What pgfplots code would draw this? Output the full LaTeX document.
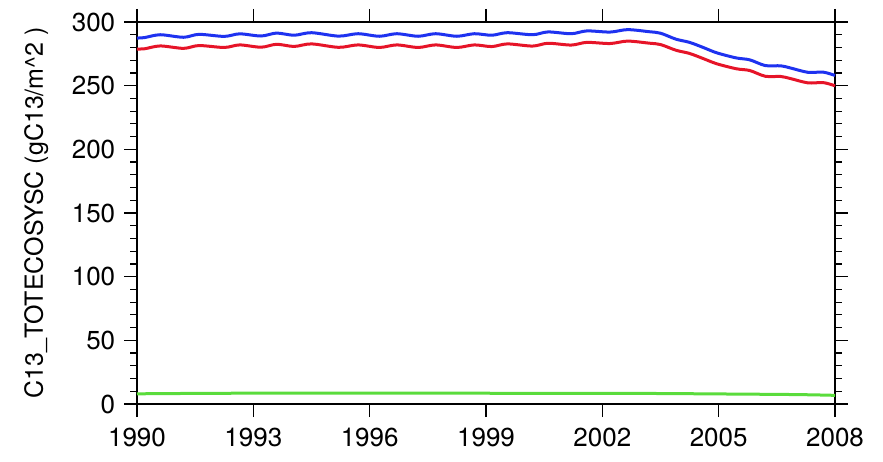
\documentclass[border=0pt]{standalone}
\usepackage{pgfplots}
\pgfplotsset{compat=1.18}
\usepackage{fontspec}
\setmainfont{TeX Gyre Heros}
\definecolor{cblue}{RGB}{30,50,240}
\definecolor{cred}{RGB}{230,20,40}
\definecolor{cgreen}{RGB}{90,220,60}
\begin{document}
\begin{tikzpicture}
\fontsize{26}{30}\selectfont
\begin{axis}[
  scale only axis,
  width=698pt, height=382pt,
  xmin=1990, xmax=2008, ymin=0, ymax=300,
  xtick={1990,1993,1996,1999,2002,2005,2008},
  ytick={0,50,100,150,200,250,300},
  minor y tick num=4,
  tick align=outside,
  tick pos=both,
  major tick length=13pt,
  minor tick length=7pt,
  every tick/.style={black, line width=1.2pt},
  axis line style={line width=1.5pt},
  /pgf/number format/assume math mode=true,
  /pgf/number format/1000 sep={},
  ticklabel style={font=\fontsize{26}{30}\selectfont},
  xticklabel style={yshift=-2pt},
  ylabel={C13\_TOTECOSYSC (gC13/m\textasciicircum 2 )},
  ylabel style={font=\fontsize{25}{30}\selectfont, yshift=6pt},
  clip=false,
]
\addplot[cblue, line width=3pt, smooth] coordinates {
(1990.0,287.4) (1990.2,287.8) (1990.6,290.0) (1991.2,288.0) (1991.6,290.3)
(1992.25,288.7) (1992.65,290.7) (1993.2,289.0) (1993.6,291.3) (1994.05,289.6)
(1994.5,291.6) (1995.2,288.9) (1995.7,290.8) (1996.25,288.8) (1996.7,290.8)
(1997.25,288.8) (1997.7,290.8) (1998.25,288.8) (1998.7,290.8) (1999.15,289.6)
(1999.55,291.6) (2000.2,290.0) (2000.6,292.2) (2001.2,290.8) (2001.6,293.0)
(2002.2,292.1) (2002.65,294.0) (2003.2,292.4) (2003.5,291.2) (2003.9,286.5)
(2004.25,284.0) (2004.6,280.0) (2004.95,275.8) (2005.45,271.8) (2005.8,270.3)
(2006.2,265.8) (2006.6,265.6) (2006.85,263.9) (2007.3,260.5) (2007.7,260.6)
(2008.0,258.0)};
\addplot[cred, line width=3pt, smooth] coordinates {
(1990.0,278.8) (1990.2,279.0) (1990.6,281.2) (1991.2,279.3) (1991.6,281.5)
(1992.25,280.0) (1992.65,282.0) (1993.2,280.2) (1993.6,282.5) (1994.05,280.8)
(1994.5,282.8) (1995.2,280.1) (1995.7,282.0) (1996.25,280.0) (1996.7,282.0)
(1997.25,280.0) (1997.7,282.0) (1998.25,280.0) (1998.7,282.0) (1999.15,280.7)
(1999.55,282.8) (2000.2,281.1) (2000.6,283.3) (2001.2,281.9) (2001.6,284.0)
(2002.2,283.1) (2002.65,285.0) (2003.2,283.4) (2003.5,282.3) (2003.9,277.8)
(2004.25,275.3) (2004.6,271.3) (2004.95,267.2) (2005.45,263.3) (2005.8,261.9)
(2006.2,257.4) (2006.6,257.2) (2006.85,255.6) (2007.3,252.2) (2007.7,252.4)
(2008.0,249.9)};
\addplot[cgreen, line width=3pt, smooth] coordinates {
(1990.0,8.0) (1992.0,8.4) (1995.0,8.6) (1998.0,8.5) (2000.0,8.4)
(2003.0,8.3) (2005.0,7.9) (2007.0,7.4) (2008.0,6.8)};
\end{axis}
\path ([shift={(-137pt,-57pt)}]current axis.south west) rectangle ([shift={(48pt,22pt)}]current axis.north east);
\end{tikzpicture}
\end{document}
